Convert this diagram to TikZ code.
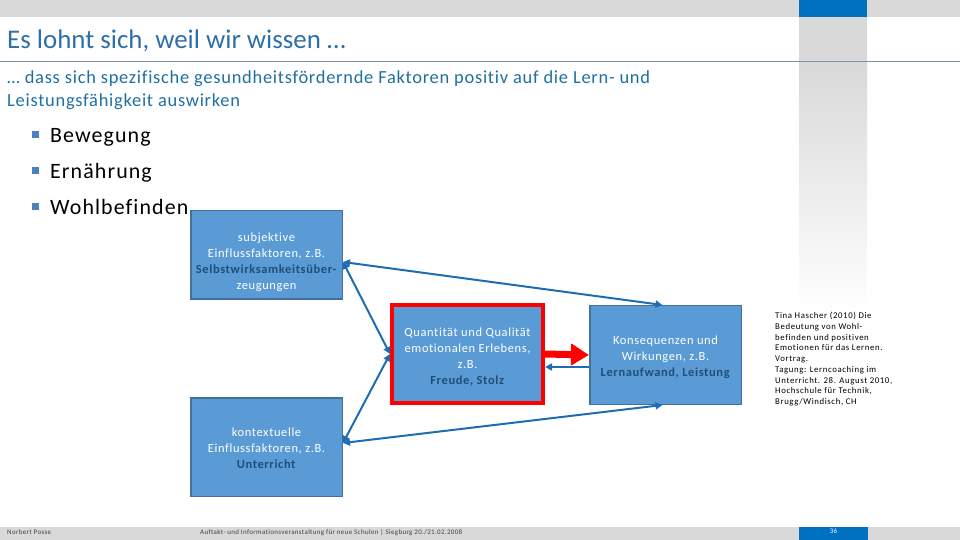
\documentclass[tikz,border=0pt]{standalone}
\usepackage{fontspec}
\setmainfont[Ligatures=NoCommon]{Carlito}
\newfontfamily\spacedfont[LetterSpace=5,Ligatures=NoCommon]{Carlito}
\newfontfamily\citefont[LetterSpace=7,Ligatures=NoCommon]{Carlito}
\newfontfamily\subfont[LetterSpace=4,Ligatures=NoCommon]{Carlito}
\usetikzlibrary{arrows.meta,calc}
\definecolor{boxfill}{HTML}{5B9BD5}
\definecolor{boxborder}{HTML}{41719C}
\definecolor{darkbold}{HTML}{1F4E79}
\definecolor{arrowblue}{HTML}{1E6DB3}
\definecolor{bargray}{HTML}{D9D9D9}
\definecolor{topblue}{HTML}{0070C0}
\definecolor{titleblue}{HTML}{2E6FA8}
\definecolor{subblue}{HTML}{1F6FA3}
\definecolor{rulecol}{HTML}{7F92A3}
\definecolor{bulletblue}{HTML}{4F81BD}
\definecolor{foottext}{HTML}{404040}
\tikzset{
  infobox/.style={draw=boxborder, line width=1.5bp, fill=boxfill, inner sep=0pt},
  keybox/.style={draw=red, line width=4bp, fill=boxfill, inner sep=0pt},
  boxlabel/.style={text=white, align=center, font=\spacedfont\fontsize{12.5}{16.2}\selectfont, inner sep=0pt},
  link/.style={draw=arrowblue, line width=2bp, {Triangle[length=7bp,width=7bp]}-{Triangle[length=7bp,width=7bp]}},
  backlink/.style={draw=arrowblue, line width=2.5bp, -{Triangle[length=7bp,width=7bp]}},
  bigarrow/.style={draw=red, line width=7bp, -{Triangle[length=18bp,width=21bp]}},
  bullettext/.style={anchor=base west, font=\spacedfont\fontsize{22}{24}\selectfont, text=black, inner sep=0pt},
  bulletsq/.style={fill=bulletblue, minimum size=7bp, inner sep=0pt},
  foot/.style={anchor=base west, font=\spacedfont\fontsize{7}{8}\selectfont, text=foottext, inner sep=0pt}
}
\newcommand{\bb}[1]{\textcolor{darkbold}{\textbf{#1}}}
\begin{document}
\begin{tikzpicture}[x=1bp,y=-1bp]
\useasboundingbox (0,0) rectangle (960,540);
% header
\fill[bargray] (0,0) rectangle (960,17);
\fill[topblue] (799,0) rectangle (867,17);
\fill[bargray] (799,17) rectangle (867,62);
\shade[top color=bargray, bottom color=white] (799,62) rectangle (867,312);
\draw[rulecol, line width=1.5bp] (0,61.5) -- (960,61.5);
\node[anchor=base west, inner sep=0pt, text=titleblue, font=\fontsize{27}{30}\selectfont] (title) at (7,49) {Es lohnt sich, weil wir wissen …};
% subtitle
\node[anchor=base west, inner sep=0pt, text=subblue, font=\subfont\fontsize{18.5}{20}\selectfont] (sub1) at (7,84) {… dass sich spezifische gesundheitsfördernde Faktoren positiv auf die Lern- und};
\node[anchor=base west, inner sep=0pt, text=subblue, font=\subfont\fontsize{18.5}{20}\selectfont] (sub2) at (7,107) {Leistungsfähigkeit auswirken};
% bullets
\node[bulletsq] (b1) at (35.5,135) {};
\node[bullettext] (t1) at (50,143) {Bewegung};
\node[bulletsq] (b2) at (35.5,171) {};
\node[bullettext] (t2) at (50,179) {Ernährung};
\node[bulletsq] (b3) at (35.5,207) {};
\node[bullettext] (t3) at (50,215) {Wohlbefinden};
% boxes
\node[infobox, minimum width=151.5bp, minimum height=88.5bp] (A) at (266.5,255) {};
\node[boxlabel] (At) at ($(A.center)+(0,7)$)
  {subjektive\\Einflussfaktoren, z.B.\\\bb{Selbstwirksamkeitsüber-}\\zeugungen};
\node[keybox, minimum width=151bp, minimum height=98bp] (B) at (467.5,354) {};
\node[boxlabel] (Bt) at ($(B.center)+(0,3)$)
  {Quantität und Qualität\\emotionalen Erlebens,\\z.B.\\\bb{Freude, Stolz}};
\node[infobox, minimum width=151.5bp, minimum height=98.5bp] (C) at (665.5,355) {};
\node[boxlabel] (Ct) at ($(C.center)+(0,2)$)
  {Konsequenzen und\\Wirkungen, z.B.\\\bb{Lernaufwand, Leistung}};
\node[infobox, minimum width=151.5bp, minimum height=98.5bp] (D) at (266.5,447) {};
\node[boxlabel] (Dt) at ($(D.center)+(0,1)$)
  {kontextuelle\\Einflussfaktoren, z.B.\\\bb{Unterricht}};
% connectors
\coordinate (Ap) at ($(A.north east)+(0,52)$);
\coordinate (Dp) at ($(D.east)+(0,-4)$);
\draw[link] (Ap) -- ($(C.north)+(-3,0)$);
\draw[link] (Ap) -- (B.west);
\draw[link] (Dp) -- (B.west);
\draw[link] (Dp) -- ($(C.south)+(-3,0)$);
\draw[bigarrow] (B.east) -- (C.west);
\draw[backlink] ($(C.west)+(0,12)$) -- ($(B.east)+(0,13)$);
% citation
\node[anchor=north west, align=left, inner sep=0pt, text=black, font=\citefont\fontsize{8.8}{10.8}\selectfont] (cite) at (775,312)
  {Tina Hascher (2010) Die\\Bedeutung von Wohl-\\befinden und positiven\\Emotionen für das Lernen.\\Vortrag.\\Tagung: Lerncoaching im\\Unterricht. 28. August 2010,\\Hochschule für Technik,\\Brugg/Windisch, CH};
% footer
\fill[bargray] (0,527) rectangle (960,540);
\fill[topblue] (799,527) rectangle (868,540);
\node[foot] (f1) at (7,534.5) {Norbert Posse};
\node[foot] (f2) at (200,534.5) {Auftakt- und Informationsveranstaltung für neue Schulen | Siegburg 20./21.02.2008};
\node[anchor=base, inner sep=0pt, text=white, font=\fontsize{7}{8}\selectfont] (pg) at (833.5,533.5) {36};
\end{tikzpicture}
\end{document}
